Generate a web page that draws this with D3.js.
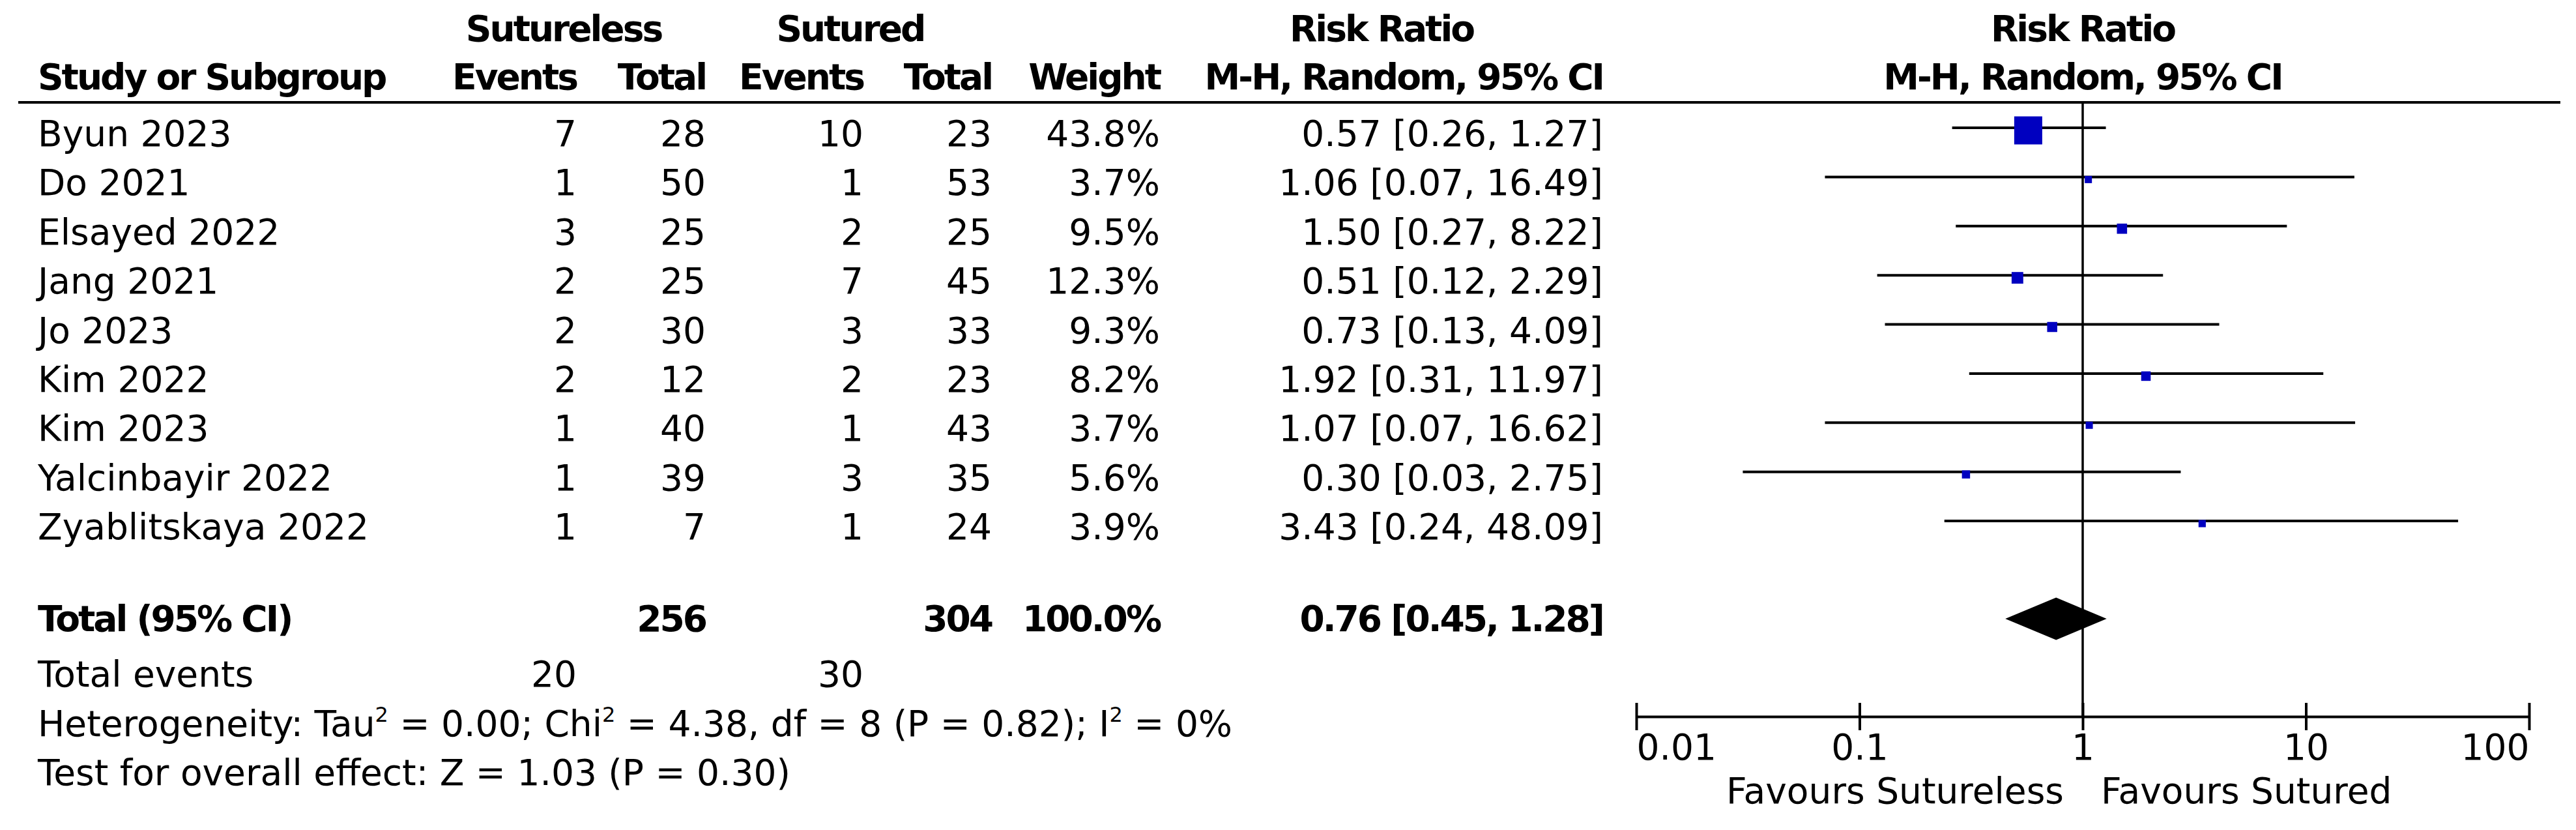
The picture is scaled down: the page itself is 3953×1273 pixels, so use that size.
<!DOCTYPE html>
<html lang="en">
<head>
<meta charset="utf-8">
<title>Forest plot - Sutureless vs Sutured</title>
<script src="https://d3js.org/d3.v7.min.js"></script>
<style>
* { margin: 0; padding: 0; }
body { background: #fff; }
svg { display: block; font-family: 'DejaVu Sans', sans-serif; }
.bold { font-weight: bold; letter-spacing: -3px; }
</style>
</head>
<body>
<script>
// study rows
let studies = ["Byun 2023", "Do 2021", "Elsayed 2022", "Jang 2021", "Jo 2023",
  "Kim 2022", "Kim 2023", "Yalcinbayir 2022", "Zyablitskaya 2022"];
let sutlessEvents = [7, 1, 3, 2, 2, 2, 1, 1, 1];
let sutlessTotal = [28, 50, 25, 25, 30, 12, 40, 39, 7];
let sutEvents = [10, 1, 2, 7, 3, 2, 1, 3, 1];
let sutTotal = [23, 53, 25, 45, 33, 23, 43, 35, 24];
let weights = [43.8, 3.7, 9.5, 12.3, 9.3, 8.2, 3.7, 5.6, 3.9];
let rr = [0.57, 1.06, 1.50, 0.51, 0.73, 1.92, 1.07, 0.30, 3.43];
let rrLow = [0.26, 0.07, 0.27, 0.12, 0.13, 0.31, 0.07, 0.03, 0.24];
let rrHigh = [1.27, 16.49, 8.22, 2.29, 4.09, 11.97, 16.62, 2.75, 48.09];

// pooled result
let totalN = [256, 304];
let totalEvents = [20, 30];
let totalWeight = 100.0;
let pooled = [0.76, 0.45, 1.28]; // estimate, low, high

// axis
let tickValues = [0.01, 0.1, 1, 10, 100];
let tickLabels = ["0.01", "0.1", "1", "10", "100"];
let favourLabels = ["Favours Sutureless", "Favours Sutured"];

let w = 3953, h = 1273;
let fs = 55;          // body font size
let leftX = 58;       // study name column
let lineY = 157;      // rule under the headers
let axisY = 1099;
let blue = "#0000c0";

let x = d3.scaleLog().domain([0.01, 100]).range([2511, 3881]);
let rowY = d3.scaleLinear().domain([0, studies.length - 1]).range([224, 827]); // text baselines
let boxSize = d3.scaleLinear().domain([3.7, 43.8]).range([11, 43]);

// right edges of the numeric columns
let colRight = { ev1: 885, tot1: 1083, ev2: 1325, tot2: 1522, wt: 1780, ci: 2460 };

let svg = d3.select("body").append("svg")
  .attr("width", w)
  .attr("height", h);

function txt(s, xx, yy, anchor, bold) {
  return svg.append("text")
    .text(s)
    .attr("x", xx)
    .attr("y", yy)
    .attr("text-anchor", anchor || "start")
    .attr("font-size", fs)
    .attr("class", bold ? "bold" : null)
    .attr("fill", "#000");
}

let fmtCI = (e, l, u) => e.toFixed(2) + " [" + l.toFixed(2) + ", " + u.toFixed(2) + "]";

// headers
txt("Sutureless", 865, 63, "middle", true);
txt("Sutured", 1305, 63, "middle", true);
txt("Risk Ratio", 2120, 63, "middle", true);
txt("Risk Ratio", x(1), 63, "middle", true);
txt("Study or Subgroup", leftX, 137, "start", true);
txt("Events", colRight.ev1, 137, "end", true);
txt("Total", colRight.tot1, 137, "end", true);
txt("Events", colRight.ev2, 137, "end", true);
txt("Total", colRight.tot2, 137, "end", true);
txt("Weight", colRight.wt, 137, "end", true);
txt("M-H, Random, 95% CI", colRight.ci, 137, "end", true);
txt("M-H, Random, 95% CI", x(1), 137, "middle", true);

svg.append("line")
  .attr("x1", 28).attr("x2", 3929)
  .attr("y1", lineY).attr("y2", lineY)
  .attr("stroke", "#000").attr("stroke-width", 4);

// study rows text
let rows = svg.append("g").selectAll("g")
  .data(studies)
  .enter().append("g");

let cells = [
  { get: (d, i) => d, x: leftX, anchor: "start" },
  { get: (d, i) => sutlessEvents[i], x: colRight.ev1, anchor: "end" },
  { get: (d, i) => sutlessTotal[i], x: colRight.tot1, anchor: "end" },
  { get: (d, i) => sutEvents[i], x: colRight.ev2, anchor: "end" },
  { get: (d, i) => sutTotal[i], x: colRight.tot2, anchor: "end" },
  { get: (d, i) => weights[i].toFixed(1) + "%", x: colRight.wt, anchor: "end" },
  { get: (d, i) => fmtCI(rr[i], rrLow[i], rrHigh[i]), x: colRight.ci, anchor: "end" }
];

cells.forEach(c => {
  rows.append("text")
    .text(c.get)
    .attr("x", c.x)
    .attr("y", (d, i) => rowY(i))
    .attr("text-anchor", c.anchor)
    .attr("font-size", fs)
    .attr("fill", "#000");
});

// no-effect line
svg.append("line")
  .attr("x1", x(1)).attr("x2", x(1))
  .attr("y1", lineY).attr("y2", axisY)
  .attr("stroke", "#000").attr("stroke-width", 3.5);

// CI whiskers
rows.append("line")
  .attr("x1", (d, i) => x(rrLow[i]))
  .attr("x2", (d, i) => x(rrHigh[i]))
  .attr("y1", (d, i) => rowY(i) - 28)
  .attr("y2", (d, i) => rowY(i) - 28)
  .attr("stroke", "#000")
  .attr("stroke-width", 4);

// weight boxes
rows.append("rect")
  .attr("x", (d, i) => x(rr[i]) - boxSize(weights[i]) / 2)
  .attr("y", (d, i) => rowY(i) - 24 - boxSize(weights[i]) / 2)
  .attr("width", (d, i) => boxSize(weights[i]))
  .attr("height", (d, i) => boxSize(weights[i]))
  .attr("fill", blue);

// total row
let totY = 968;
txt("Total (95% CI)", leftX, totY, "start", true);
txt(totalN[0], colRight.tot1, totY, "end", true);
txt(totalN[1], colRight.tot2, totY, "end", true);
txt(totalWeight.toFixed(1) + "%", colRight.wt, totY, "end", true);
txt(fmtCI(pooled[0], pooled[1], pooled[2]), colRight.ci, totY, "end", true);

let dCy = totY - 19, dH = 32.5;
svg.append("path")
  .attr("d", "M" + x(pooled[1]) + "," + dCy +
    "L" + x(pooled[0]) + "," + (dCy - dH) +
    "L" + x(pooled[2]) + "," + dCy +
    "L" + x(pooled[0]) + "," + (dCy + dH) + "Z")
  .attr("fill", "#000");

// footer
txt("Total events", leftX, 1053);
txt(totalEvents[0], colRight.ev1, 1053, "end");
txt(totalEvents[1], colRight.ev2, 1053, "end");

let het = txt("", leftX, 1129);
let sup = (t) => het.append("tspan").text(t).attr("font-size", 32).attr("dy", -22);
let norm = (t) => het.append("tspan").text(t).attr("dy", 22);
het.append("tspan").text("Heterogeneity: Tau");
sup("2"); norm(" = 0.00; Chi");
sup("2"); norm(" = 4.38, df = 8 (P = 0.82); I");
sup("2"); norm(" = 0%");

txt("Test for overall effect: Z = 1.03 (P = 0.30)", leftX, 1204);

// axis
let axis = svg.append("g")
  .attr("transform", "translate(0," + axisY + ")")
  .call(d3.axisBottom(x)
    .tickValues(tickValues)
    .tickFormat((d, i) => tickLabels[i])
    .tickSizeOuter(0));

axis.select(".domain").attr("stroke-width", 4);
axis.selectAll(".tick line")
  .attr("y1", -21).attr("y2", 21)
  .attr("stroke-width", 4);
axis.selectAll(".tick text")
  .attr("y", 66).attr("dy", 0)
  .attr("font-size", fs)
  .attr("font-family", "'DejaVu Sans', sans-serif")
  .attr("text-anchor", (d, i) => i == 0 ? "start" : (i == tickValues.length - 1 ? "end" : "middle"));

txt(favourLabels[0], x(1) - 29, 1232, "end");
txt(favourLabels[1], x(1) + 28, 1232, "start");
</script>
</body>
</html>
